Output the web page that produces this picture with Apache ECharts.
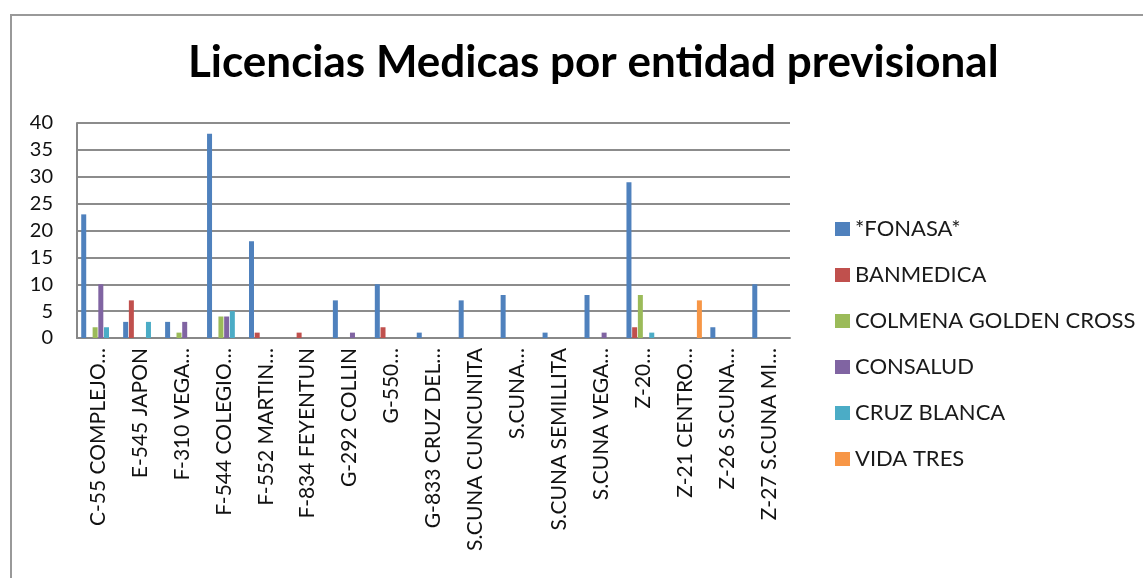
<!DOCTYPE html>
<html>
<head>
<meta charset="utf-8">
<script src="https://cdn.jsdelivr.net/npm/echarts@6/dist/echarts.min.js"></script>
<style>
  html, body { margin: 0; padding: 0; background: #fff; }
  #frame { position: absolute; left: 10px; top: 14px; width: 1133px; height: 564px;
           border-top: 2px solid #999; border-left: 2px solid #999; }
  #chart { position: absolute; left: 0; top: 0; width: 1143px; height: 578px; }
</style>
</head>
<body>
<div id="frame"></div>
<div id="chart"></div>
<script>
var categories = ['C-55 COMPLEJO…', 'E-545 JAPON', 'F-310 VEGA…', 'F-544 COLEGIO…', 'F-552 MARTIN…',
  'F-834 FEYENTUN', 'G-292 COLLIN', 'G-550…', 'G-833 CRUZ DEL…', 'S.CUNA CUNCUNITA', 'S.CUNA…',
  'S.CUNA SEMILLITA', 'S.CUNA VEGA…', 'Z-20…', 'Z-21 CENTRO…', 'Z-26 S.CUNA…', 'Z-27 S.CUNA MI…'];
var seriesNames = ['*FONASA*', 'BANMEDICA', 'COLMENA GOLDEN CROSS', 'CONSALUD', 'CRUZ BLANCA', 'VIDA TRES'];
var fonasa    = [23, 3, 3, 38, 18, 0, 7, 10, 1, 7, 8, 1, 8, 29, 0, 2, 10];
var banmedica = [0, 7, 0, 0, 1, 1, 0, 2, 0, 0, 0, 0, 0, 2, 0, 0, 0];
var colmena   = [2, 0, 1, 4, 0, 0, 0, 0, 0, 0, 0, 0, 0, 8, 0, 0, 0];
var consalud  = [10, 0, 3, 4, 0, 0, 1, 0, 0, 0, 0, 0, 1, 0, 0, 0, 0];
var cruzBlanca = [2, 3, 0, 5, 0, 0, 0, 0, 0, 0, 0, 0, 0, 1, 0, 0, 0];
var vidaTres  = [0, 0, 0, 0, 0, 0, 0, 0, 0, 0, 0, 0, 0, 0, 7, 0, 0];
var yTicks = { min: 0, max: 40, interval: 5 };

var colors = ['#4F81BD', '#C0504D', '#9BBB59', '#8064A2', '#4BACC6', '#F79646'];
var values = [fonasa, banmedica, colmena, consalud, cruzBlanca, vidaTres];
var font = 'Lato, "Open Sans", sans-serif';

var series = seriesNames.map(function (name, i) {
  return {
    name: name,
    type: 'bar',
    barWidth: 5,
    barGap: '14%',
    data: values[i]
  };
});

var option = {
  color: colors,
  animation: false,
  textStyle: { fontFamily: font },
  title: {
    text: 'Licencias Medicas por entidad previsional',
    left: 183,
    top: 36,
    textStyle: { fontFamily: font, fontSize: 44, fontWeight: 'bold', color: '#000' }
  },
  legend: {
    orient: 'vertical',
    left: 830,
    top: 213,
    itemWidth: 15,
    itemHeight: 14,
    itemGap: 24,
    icon: 'rect',
    data: seriesNames,
    textStyle: { fontFamily: font, fontSize: 22, color: '#1a1a1a' }
  },
  grid: { left: 77, right: 353, top: 123, bottom: 240, containLabel: false },
  xAxis: {
    type: 'category',
    data: categories,
    axisLine: { lineStyle: { color: '#888', width: 2 } },
    axisTick: { show: false },
    axisLabel: { rotate: 90, interval: 0, fontSize: 21, color: '#111', fontFamily: font, margin: 10 }
  },
  yAxis: {
    type: 'value',
    min: yTicks.min,
    max: yTicks.max,
    interval: yTicks.interval,
    axisLine: { show: true, lineStyle: { color: '#888', width: 2 } },
    axisTick: { show: false },
    axisLabel: { fontSize: 20, color: '#111', fontFamily: font, margin: 24 },
    splitLine: { lineStyle: { color: '#8c8c8c', width: 2 } }
  },
  series: series
};

var chart = echarts.init(document.getElementById('chart'));
chart.setOption(option);
</script>
</body>
</html>
